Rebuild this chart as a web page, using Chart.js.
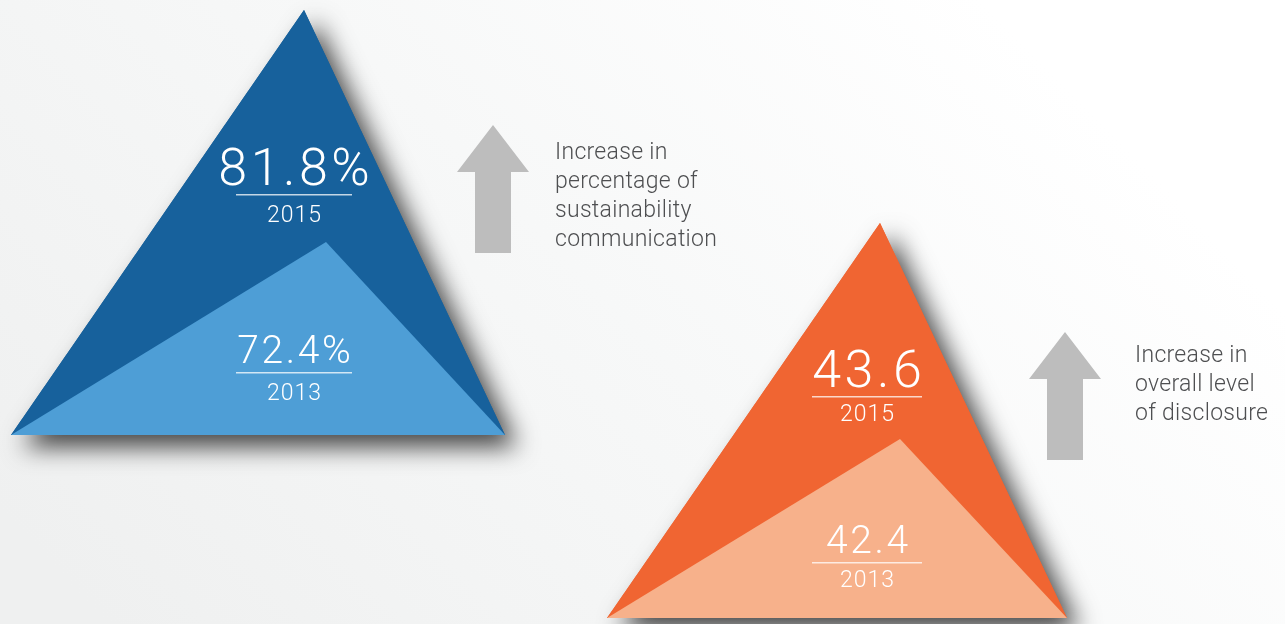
<!DOCTYPE html>
<html lang="en">
<head>
<meta charset="utf-8">
<title>Sustainability disclosure, 2013 vs 2015</title>
<script src="https://cdn.jsdelivr.net/npm/chart.js@4"></script>
<style>
  html, body { margin: 0; padding: 0; background: #f3f4f4; }
  #wrap { position: relative; width: 1285px; height: 624px; }
</style>
</head>
<body>
<div id="wrap"><canvas id="myChart"></canvas></div>
<script>
// values per indicator: [sustainability communication, overall disclosure]
const years = ['2015', '2013'];
const values_2015 = [81.8, 43.6];
const values_2013 = [72.4, 42.4];
const value_units = ['%', ''];
const captions = [
  ['Increase in', 'percentage of', 'sustainability', 'communication'],
  ['Increase in', 'overall level', 'of disclosure']
];
const colors_2015 = ['#17619c', '#f06532'];
const colors_2013 = ['#4e9ed6', '#f7b18b'];

// where each pyramid sits: base corners and apex x in page units,
// the range of its own hidden value axis and where its base line is
const panels = [
  { left: 11, right: 505, apex: [304, 326], base: 64.58, yMin: 56.92, yMax: 82.205,
    textX: 294, rows: [185, 363], ruleHalf: 58, yearGap: 37, arrow: [493, 125], caption: [555, 159] },
  { left: 607, right: 1067, apex: [880, 900], base: 41.406, yMin: 41.372, yMax: 44.839,
    textX: 867, rows: [387, 553], ruleHalf: 55, yearGap: 34, arrow: [1065, 332], caption: [1135, 362] }
];

const TEXT_FONT = 'Roboto, "Liberation Sans", sans-serif';

function Make_triangle(p, apexX, value) {
  return [
    { x: p.left, y: p.base },
    { x: apexX, y: value },
    { x: p.right, y: p.base }
  ];
}

const datasets = [];
const scales = {
  x: { type: 'linear', min: 0, max: 1285, display: false }
};
panels.forEach((p, i) => {
  const axis = 'y' + i;
  scales[axis] = { type: 'linear', min: p.yMin, max: p.yMax, display: false };
  datasets.push({
    label: years[0],
    data: Make_triangle(p, p.apex[0], values_2015[i]),
    yAxisID: axis,
    backgroundColor: colors_2015[i],
    borderWidth: 0,
    fill: 'shape',
    order: 2,
    outer: true
  });
  datasets.push({
    label: years[1],
    data: Make_triangle(p, p.apex[1], values_2013[i]),
    yAxisID: axis,
    backgroundColor: colors_2013[i],
    borderWidth: 0,
    fill: 'shape',
    order: 1
  });
});

// soft diagonal backdrop
const backdrop = {
  id: 'backdrop',
  beforeDraw(chart) {
    const ctx = chart.ctx;
    const g = ctx.createLinearGradient(300, 820, 1060, 80);
    g.addColorStop(0, '#eff0f0');
    g.addColorStop(0.55, '#f7f8f8');
    g.addColorStop(1, '#ffffff');
    ctx.save();
    ctx.fillStyle = g;
    ctx.fillRect(0, 0, chart.width, chart.height);
    ctx.restore();
  }
};

// drop shadow under the 2015 pyramids
const pyramidShadow = {
  id: 'pyramidShadow',
  beforeDatasetsDraw(chart) {
    const ctx = chart.ctx;
    chart.data.datasets.forEach((ds, i) => {
      if (!ds.outer) return;
      const pts = chart.getDatasetMeta(i).data;
      ctx.save();
      ctx.shadowColor = 'rgba(0,0,0,0.72)';
      ctx.shadowBlur = 24;
      ctx.shadowOffsetX = 12;
      ctx.shadowOffsetY = 12;
      ctx.fillStyle = ds.backgroundColor;
      ctx.beginPath();
      ctx.moveTo(pts[0].x, pts[0].y);
      ctx.lineTo(pts[1].x, pts[1].y);
      ctx.lineTo(pts[2].x, pts[2].y);
      ctx.closePath();
      ctx.fill();
      ctx.restore();
    });
  }
};

function Draw_arrow(ctx, tipX, tipY) {
  const headW = 36, headH = 47, shaftW = 18, total = 128;
  ctx.beginPath();
  ctx.moveTo(tipX, tipY);
  ctx.lineTo(tipX + headW, tipY + headH);
  ctx.lineTo(tipX + shaftW, tipY + headH);
  ctx.lineTo(tipX + shaftW, tipY + total);
  ctx.lineTo(tipX - shaftW, tipY + total);
  ctx.lineTo(tipX - shaftW, tipY + headH);
  ctx.lineTo(tipX - headW, tipY + headH);
  ctx.closePath();
  ctx.fill();
}

// centred text with extra tracking, trailing gap left out
function Spaced_text(ctx, text, cx, y, spacing) {
  ctx.letterSpacing = spacing + 'px';
  const w = ctx.measureText(text).width - spacing;
  ctx.textAlign = 'left';
  ctx.fillText(text, cx - w / 2, y);
  ctx.letterSpacing = '0px';
}

// value labels, year rules, arrows and captions
const annotations = {
  id: 'annotations',
  afterDatasetsDraw(chart) {
    const ctx = chart.ctx;
    ctx.save();
    ctx.textBaseline = 'alphabetic';
    panels.forEach((p, i) => {
      const vals = [values_2015[i], values_2013[i]];
      const sizes = [52, 39];
      const tracking = [3.5, 2.6];
      vals.forEach((v, k) => {
        const base = p.rows[k];
        ctx.fillStyle = '#ffffff';
        ctx.font = '300 ' + sizes[k] + 'px ' + TEXT_FONT;
        Spaced_text(ctx, v.toFixed(1) + value_units[i], p.textX, base, tracking[k]);
        ctx.fillStyle = 'rgba(255,255,255,0.75)';
        ctx.fillRect(p.textX - p.ruleHalf, base + 9, p.ruleHalf * 2, 1.5);
        ctx.fillStyle = '#ffffff';
        ctx.font = '300 23px ' + TEXT_FONT;
        Spaced_text(ctx, years[k], p.textX, base + p.yearGap, 1);
      });

      ctx.fillStyle = '#bdbdbd';
      Draw_arrow(ctx, p.arrow[0], p.arrow[1]);

      ctx.fillStyle = '#4e4f51';
      ctx.textAlign = 'left';
      ctx.font = '300 23px ' + TEXT_FONT;
      ctx.letterSpacing = '0.3px';
      captions[i].forEach((line, n) => {
        ctx.fillText(line, p.caption[0], p.caption[1] + n * 29);
      });
      ctx.letterSpacing = '0px';
    });
    ctx.restore();
  }
};

const myChart = new Chart(document.getElementById('myChart'), {
  type: 'line',
  data: { datasets: datasets },
  options: {
    responsive: true,
    maintainAspectRatio: false,
    animation: false,
    events: [],
    layout: { padding: 0, autoPadding: false },
    elements: { point: { radius: 0, hoverRadius: 0 }, line: { tension: 0 } },
    scales: scales,
    plugins: {
      legend: { display: false },
      tooltip: { enabled: false }
    }
  },
  plugins: [backdrop, pyramidShadow, annotations]
});
</script>
</body>
</html>
